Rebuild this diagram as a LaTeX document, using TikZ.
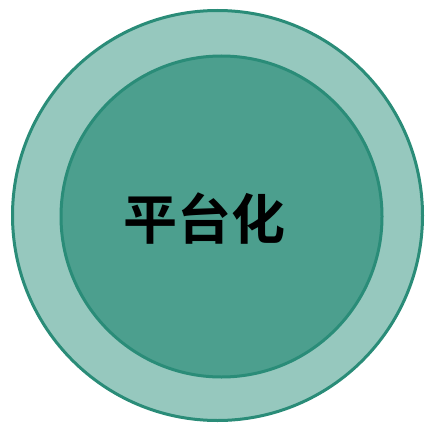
\documentclass[tikz,border=0pt]{standalone}
\usepackage{fontspec}
\newfontfamily\cjkbold{Noto Sans CJK SC Bold}
\definecolor{ringline}{HTML}{2A8C78}
\definecolor{ringfill}{HTML}{96C8BE}
\definecolor{corefill}{HTML}{4C9F8E}
\begin{document}
\begin{tikzpicture}[x=1pt, y=-1pt,
        ring/.style={draw=ringline, line width=3pt, fill=ringfill},
        core/.style={draw=ringline, line width=3pt, fill=corefill},
        label/.style={font=\cjkbold\fontsize{54}{60}\selectfont, text=black}]
        % fix the page size
        \useasboundingbox (0,0) rectangle (425,425);
        
        % draw outer ring
        \node[ring, circle, minimum size=410pt, inner sep=0pt] (outer) at (217.5,215.5) {};
        
        % draw inner disc
        \node[core, circle, minimum size=321pt, inner sep=0pt] (inner) at (221.5,216.5) {};
        
        % draw label
        \node[label] (title) at (204,219) {平台化};
    \end{tikzpicture}
\end{document}
